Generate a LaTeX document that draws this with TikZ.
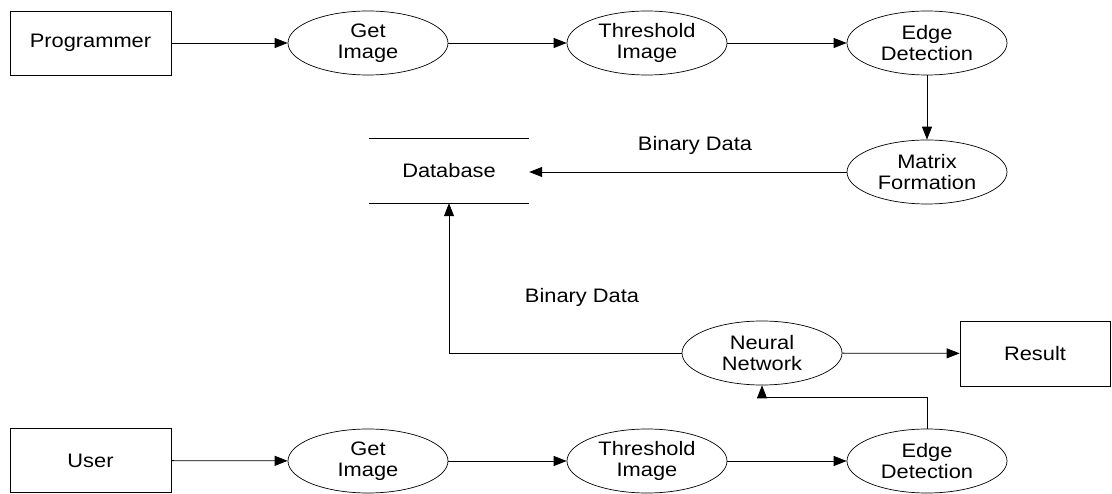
\documentclass[tikz,border=0pt]{standalone}
\usepackage{fontspec}
\setmainfont[FakeStretch=1.12]{Liberation Sans}
\usetikzlibrary{arrows.meta,calc,shapes.geometric}
\begin{document}
\begin{tikzpicture}[x=1pt,y=-1pt,
  every node/.style={font=\fontsize{19.5}{21}\selectfont, align=center, inner sep=0pt},
  proc/.style={draw, ellipse, minimum width=160pt, minimum height=64pt, line width=0.7pt},
  ent/.style={draw, rectangle, minimum width=161pt, minimum height=64pt, line width=0.8pt},
  store/.style={rectangle, minimum width=160pt, minimum height=64pt},
  conn/.style={line width=0.8pt, -{Triangle[length=13pt,width=10pt]}},
  lbl/.style={}]
\useasboundingbox (0,0) rectangle (1112,494);
% top row
\node[ent] (prog) at (90.5,43) {Programmer};
\node[proc] (get1) at (368,43) {Get\\Image};
\node[proc] (thr1) at (647,43) {Threshold\\Image};
\node[proc] (edge1) at (927,43) {Edge\\Detection};
\node[proc] (mat) at (927,172) {Matrix\\Formation};
% data store
\node[store] (db) at (449,171) {Database};
\draw[line width=0.8pt] (db.north west) -- (db.north east);
\draw[line width=0.8pt] (db.south west) -- (db.south east);
% middle row
\node[proc] (nn) at (762,353) {Neural\\Network};
\node[draw, rectangle, minimum width=150pt, minimum height=65pt, line width=0.8pt] (res) at (1035,353.5) {Result};
% bottom row
\node[ent] (user) at (90.5,460.5) {User};
\node[proc] (get2) at (368,461) {Get\\Image};
\node[proc] (thr2) at (647,461) {Threshold\\Image};
\node[proc] (edge2) at (927,461) {Edge\\Detection};
% labels
\node[lbl] (bd1) at (695,145) {Binary Data};
\node[lbl] (bd2) at (582,297) {Binary Data};
% connectors
\draw[conn] (prog) -- (get1);
\draw[conn] (get1) -- (thr1);
\draw[conn] (thr1) -- (edge1);
\draw[conn] (edge1) -- (mat);
\draw[conn] (mat.west) -- (db.east |- mat.west);
\draw[conn] (nn.west) -| (db.south);
\draw[conn] (nn) -- (res);
\coordinate (k) at (927,397);
\draw[conn] (edge2.north) -- (k) -| (nn.south);
\draw[conn] (user) -- (get2);
\draw[conn] (get2) -- (thr2);
\draw[conn] (thr2) -- (edge2);
\end{tikzpicture}
\end{document}
